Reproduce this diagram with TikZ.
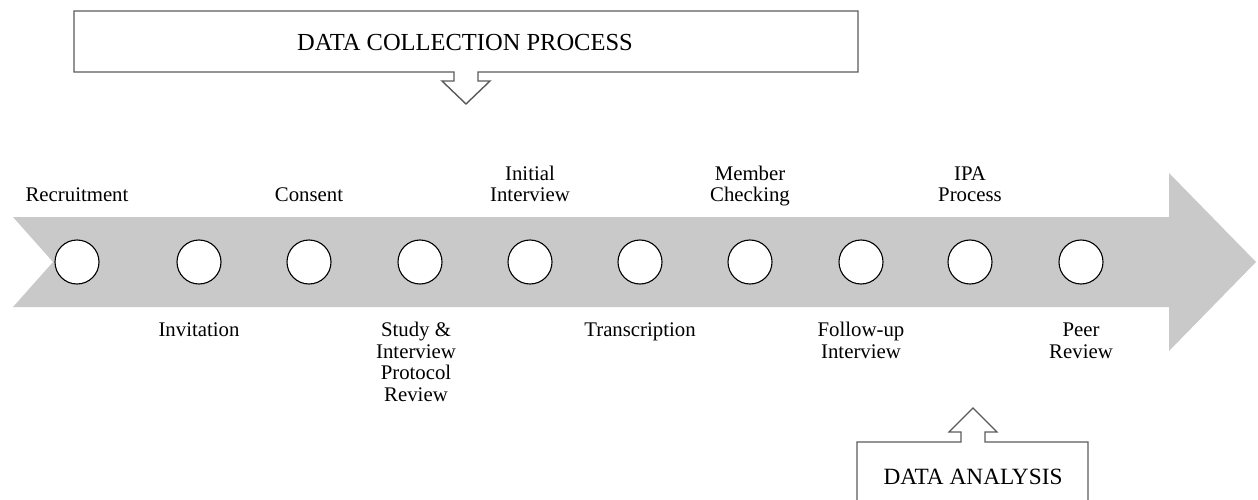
\documentclass[tikz,border=0pt]{standalone}
\usepackage{fontspec}
\setmainfont{Liberation Serif}
\definecolor{bandgray}{RGB}{201,201,201}
\definecolor{boxline}{RGB}{90,90,90}
\newcommand\lblfont{\fontsize{20.8}{21.7}\selectfont}
\newcommand\ttlfont{\fontsize{24.5}{26}\selectfont}
\newcommand\ttlbfont{\fontsize{23.3}{25}\selectfont}
\tikzset{
  lab/.style={font=\lblfont, align=center, inner sep=0pt},
  stepdot/.style={circle, draw=black, line width=1.1pt, fill=white, minimum size=44pt, inner sep=0pt},
  outline/.style={draw=boxline, line width=1.4pt, line join=miter}
}
\begin{document}
\begin{tikzpicture}[x=1pt,y=-1pt]
\useasboundingbox (0,0) rectangle (1258,500);
% main arrow band
\fill[bandgray] (13,217) -- (1169,217) -- (1169,173) -- (1256,262) -- (1169,351) -- (1169,307) -- (13,307) -- (53,262) -- cycle;
% top box with down arrow
\draw[outline] (74,11) -- (858,11) -- (858,72) -- (478,72) -- (478,81) -- (490,81) -- (466,104) -- (442,81) -- (454,81) -- (454,72) -- (74,72) -- cycle;
\node[font=\ttlfont, inner sep=0pt] (collect) at (465,43) {DATA COLLECTION PROCESS};
% bottom box with up arrow
\draw[outline, line width=1.1pt] (857,502) -- (857,442) -- (961,442) -- (961,432) -- (949,432) -- (973,408) -- (997,432) -- (985,432) -- (985,442) -- (1088,442) -- (1088,502);
\node[font=\ttlbfont, inner sep=0pt] (analysis) at (973,477) {DATA ANALYSIS};
% circles
\foreach \i/\x in {1/77,2/199,3/309,4/420,5/530,6/640,7/750,8/861,9/970,10/1081}
  \node[stepdot] (c\i) at (\x,262) {};
% labels above
\node[lab, anchor=south] (l1) at (77,208.5) {Recruitment\strut};
\node[lab, anchor=south] (l3) at (309,208.5) {Consent\strut};
\node[lab, anchor=south] (l5) at (530,208.5) {Initial\\Interview\strut};
\node[lab, anchor=south] (l7) at (750,208.5) {Member\\Checking\strut};
\node[lab, anchor=south] (l9) at (970,208.5) {IPA\\Process\strut};
% labels below
\node[lab, anchor=north] (l2) at (199,321) {\strut Invitation};
\node[lab, anchor=north] (l4) at (416,321) {\strut Study \&\\Interview\\Protocol\\Review};
\node[lab, anchor=north] (l6) at (640,321) {\strut Transcription};
\node[lab, anchor=north] (l8) at (861,321) {\strut Follow-up\\Interview};
\node[lab, anchor=north] (l10) at (1081,321) {\strut Peer\\Review};
\end{tikzpicture}
\end{document}
